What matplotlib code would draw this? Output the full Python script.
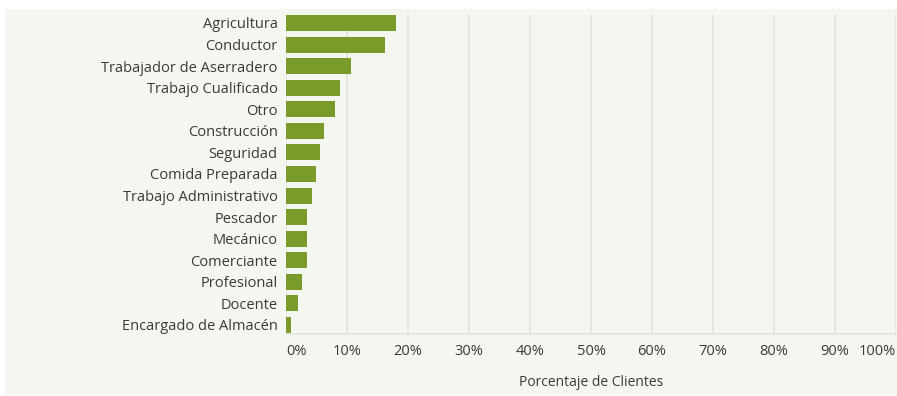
import matplotlib.pyplot as plt
from matplotlib.patches import Rectangle

plt.rcParams['font.family'] = ['Open Sans', 'DejaVu Sans']

# data
ocupaciones = ["Agricultura", "Conductor", "Trabajador de Aserradero", "Trabajo Cualificado",
               "Otro", "Construcción", "Seguridad", "Comida Preparada", "Trabajo Administrativo",
               "Pescador", "Mecánico", "Comerciante", "Profesional", "Docente",
               "Encargado de Almacén"]
porcentajes = [18.1, 16.3, 10.6, 8.8, 8.0, 6.3, 5.5, 4.9, 4.2, 3.4, 3.4, 3.4, 2.6, 1.9, 0.8]
xticks = [0, 10, 20, 30, 40, 50, 60, 70, 80, 90, 100]

bg = '#f4f6f0'
bar_color = '#7a9a2a'
text_color = '#3a3a3a'

fig = plt.figure(figsize=(8.97, 3.96), dpi=100)
fig.patch.set_facecolor('white')
# light panel behind the chart
fig.patches.append(Rectangle((5 / 897, 0.003), 1, 1 - 9 / 396 - 0.003,
                             transform=fig.transFigure, facecolor=bg,
                             edgecolor='none', zorder=-1))

ax = fig.add_axes([286 / 897, 1 - 334 / 396, 610 / 897, (334 - 15) / 396])
ax.set_facecolor(bg)

y = list(range(len(ocupaciones)))
ax.barh(y, porcentajes, height=0.74, color=bar_color, zorder=3)

ax.set_ylim(len(ocupaciones) - 0.58, -0.37)
ax.set_xlim(0, 100)
ax.set_yticks(y)
ax.set_yticklabels(ocupaciones, fontsize=10.5, color=text_color)
ax.set_xticks(xticks)
ax.set_xticklabels([f"{t}%" for t in xticks], fontsize=10.5, color=text_color)
labels = ax.get_xticklabels()
labels[0].set_ha('left')
labels[-1].set_ha('right')

ax.tick_params(axis='both', length=0)
ax.tick_params(axis='y', pad=6)
ax.tick_params(axis='x', pad=7)

ax.grid(axis='x', color='#e2e2e0', linewidth=1.2, zorder=0)
for s in ['top', 'right', 'left']:
    ax.spines[s].set_visible(False)
ax.spines['bottom'].set_color('#e2e2e0')
ax.spines['bottom'].set_linewidth(1.2)

ax.set_xlabel("Porcentaje de Clientes", fontsize=10, color=text_color, labelpad=12)

fig.savefig("out.png", dpi=100, facecolor=fig.get_facecolor())
